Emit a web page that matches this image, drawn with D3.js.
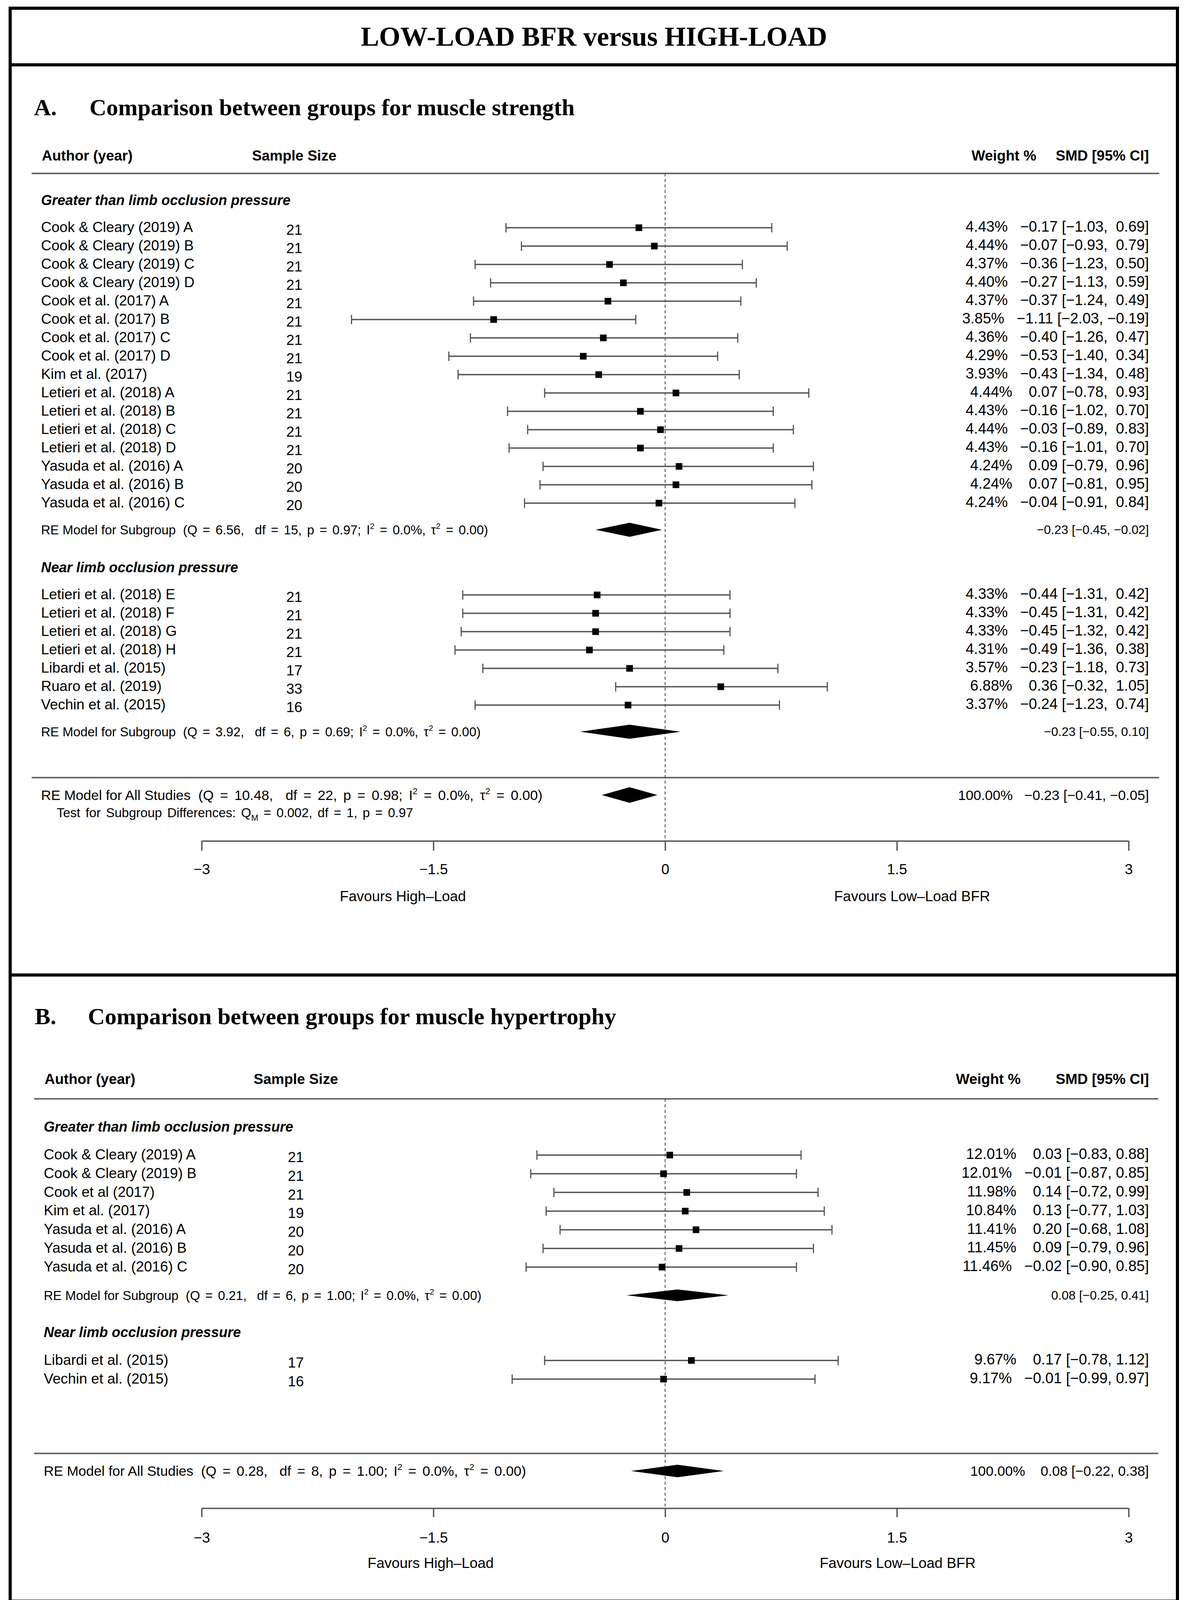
<!DOCTYPE html>
<html>
<head>
<meta charset="utf-8">
<script src="https://cdn.jsdelivr.net/npm/d3@7"></script>
<style>
  body { margin: 0; background: #fff; }
  svg text { white-space: pre; }
</style>
</head>
<body>
<svg id="chart"></svg>
<script>
// ---- data: [study, n, weight %, SMD, lower, upper] ----
const strengthGreater = [
  ["Cook & Cleary (2019) A", 21, 4.43, -0.17, -1.03, 0.69],
  ["Cook & Cleary (2019) B", 21, 4.44, -0.07, -0.93, 0.79],
  ["Cook & Cleary (2019) C", 21, 4.37, -0.36, -1.23, 0.50],
  ["Cook & Cleary (2019) D", 21, 4.40, -0.27, -1.13, 0.59],
  ["Cook et al. (2017) A", 21, 4.37, -0.37, -1.24, 0.49],
  ["Cook et al. (2017) B", 21, 3.85, -1.11, -2.03, -0.19],
  ["Cook et al. (2017) C", 21, 4.36, -0.40, -1.26, 0.47],
  ["Cook et al. (2017) D", 21, 4.29, -0.53, -1.40, 0.34],
  ["Kim et al. (2017)", 19, 3.93, -0.43, -1.34, 0.48],
  ["Letieri et al. (2018) A", 21, 4.44, 0.07, -0.78, 0.93],
  ["Letieri et al. (2018) B", 21, 4.43, -0.16, -1.02, 0.70],
  ["Letieri et al. (2018) C", 21, 4.44, -0.03, -0.89, 0.83],
  ["Letieri et al. (2018) D", 21, 4.43, -0.16, -1.01, 0.70],
  ["Yasuda et al. (2016) A", 20, 4.24, 0.09, -0.79, 0.96],
  ["Yasuda et al. (2016) B", 20, 4.24, 0.07, -0.81, 0.95],
  ["Yasuda et al. (2016) C", 20, 4.24, -0.04, -0.91, 0.84]
];
const strengthNear = [
  ["Letieri et al. (2018) E", 21, 4.33, -0.44, -1.31, 0.42],
  ["Letieri et al. (2018) F", 21, 4.33, -0.45, -1.31, 0.42],
  ["Letieri et al. (2018) G", 21, 4.33, -0.45, -1.32, 0.42],
  ["Letieri et al. (2018) H", 21, 4.31, -0.49, -1.36, 0.38],
  ["Libardi et al. (2015)", 17, 3.57, -0.23, -1.18, 0.73],
  ["Ruaro et al. (2019)", 33, 6.88, 0.36, -0.32, 1.05],
  ["Vechin et al. (2015)", 16, 3.37, -0.24, -1.23, 0.74]
];
const hypertrophyGreater = [
  ["Cook & Cleary (2019) A", 21, 12.01, 0.03, -0.83, 0.88],
  ["Cook & Cleary (2019) B", 21, 12.01, -0.01, -0.87, 0.85],
  ["Cook et al (2017)", 21, 11.98, 0.14, -0.72, 0.99],
  ["Kim et al. (2017)", 19, 10.84, 0.13, -0.77, 1.03],
  ["Yasuda et al. (2016) A", 20, 11.41, 0.20, -0.68, 1.08],
  ["Yasuda et al. (2016) B", 20, 11.45, 0.09, -0.79, 0.96],
  ["Yasuda et al. (2016) C", 20, 11.46, -0.02, -0.90, 0.85]
];
const hypertrophyNear = [
  ["Libardi et al. (2015)", 17, 9.67, 0.17, -0.78, 1.12],
  ["Vechin et al. (2015)", 16, 9.17, -0.01, -0.99, 0.97]
];

// RE models: [Q, df, p, I2 %, tau2, SMD, lower, upper]
const strengthSubgroups = [
  [6.56, 15, 0.97, 0.0, 0.00, -0.23, -0.45, -0.02],
  [3.92, 6, 0.69, 0.0, 0.00, -0.23, -0.55, 0.10]
];
const strengthOverall = [10.48, 22, 0.98, 0.0, 0.00, -0.23, -0.41, -0.05];
const strengthTest = [0.002, 1, 0.97]; // QM, df, p
const hypertrophySubgroups = [
  [0.21, 6, 1.00, 0.0, 0.00, 0.08, -0.25, 0.41]
];
const hypertrophyOverall = [0.28, 8, 1.00, 0.0, 0.00, 0.08, -0.22, 0.38];

const groupNames = ["Greater than limb occlusion pressure", "Near limb occlusion pressure"];
const axisTicks = [-3, -1.5, 0, 1.5, 3];

// ---- setup ----
const W = 3040, H = 4124;
const sans = "'Liberation Sans', Arial, sans-serif";
const serif = "'Liberation Serif', 'Times New Roman', serif";
const MINUS = "\u2212";

const svg = d3.select("#chart")
    .attr("width", W)
    .attr("height", H)
    .attr("viewBox", `0 0 ${W} ${H}`);

svg.append("rect").attr("width", W).attr("height", H).attr("fill", "#fff");

// outer frame and the two thick dividers
svg.append("rect")
    .attr("x", 26).attr("y", 21)
    .attr("width", 2987).attr("height", 4078)
    .attr("fill", "none").attr("stroke", "#000").attr("stroke-width", 8);
[166, 2496].forEach(yy => {
  svg.append("line")
      .attr("x1", 26).attr("x2", 3013).attr("y1", yy).attr("y2", yy)
      .attr("stroke", "#000").attr("stroke-width", 8);
});

svg.append("text")
    .attr("x", 1520).attr("y", 117)
    .attr("text-anchor", "middle")
    .attr("font-family", serif).attr("font-weight", "bold").attr("font-size", 70)
    .text("LOW-LOAD BFR versus HIGH-LOAD");

function label(parent, x, y, str, size, anchor = "start", weight = "normal", style = "normal") {
  return parent.append("text")
      .attr("x", x).attr("y", y).attr("dy", "0.35em")
      .attr("text-anchor", anchor)
      .attr("font-family", sans)
      .attr("font-size", size)
      .attr("font-weight", weight)
      .attr("font-style", style)
      .attr("xml:space", "preserve")
      .text(str);
}

// spread the spaces of the given tspans so the whole line reaches the target width
function fitSpaces(t, spans, target) {
  const natural = t.node().getComputedTextLength();
  const spaces = d3.sum(spans, s => (s.text().match(/ /g) || []).length);
  if (spaces > 0 && target > natural) {
    const ws = (target - natural) / spaces;
    spans.forEach(s => s.attr("word-spacing", ws));
  }
}

// "RE Model ... (Q = .., df = .., p = ..; I^2 = ..%, tau^2 = ..)"
function modelText(parent, x, y, prefix, m, size, target) {
  const t = label(parent, x, y, null, size);
  const up = size * 0.42, small = size * 0.62;
  t.append("tspan").text(`${prefix}  `);
  const spans = [
    t.append("tspan").text(`(Q = ${m[0].toFixed(2)},  df = ${m[1]}, p = ${m[2].toFixed(2)}; I`),
    t.append("tspan").attr("dy", -up).attr("font-size", small).text("2"),
    t.append("tspan").attr("dy", up).text(` = ${m[3].toFixed(1)}%, \u03c4`),
    t.append("tspan").attr("dy", -up).attr("font-size", small).text("2"),
    t.append("tspan").attr("dy", up).text(` = ${m[4].toFixed(2)})`)
  ];
  fitSpaces(t, spans, target);
}

function fmt(v, padded) {
  return (v < 0 ? MINUS : (padded ? " " : "")) + Math.abs(v).toFixed(2);
}

function drawPanel(p) {
  const g = svg.append("g");
  const x = d3.scaleLinear().domain([-3, 3]).range([516, 2888]);
  const y = r => p.y0 + r * p.step;

  const studies = p.groups.flatMap(gr => gr.studies);
  // pad non-negative numbers in a column that holds negatives
  const pad = [3, 4, 5].map(i => studies.some(d => d[i] < 0));
  const ann = (w, e, lo, hi, pads) =>
      (w == null ? "" : `${w.toFixed(2)}%   `) +
      `${fmt(e, pads[0])} [${fmt(lo, pads[1])}, ${fmt(hi, pads[2])}]`;

  // panel heading
  g.append("text").attr("x", p.letterX).attr("y", p.headY)
      .attr("font-family", serif).attr("font-weight", "bold").attr("font-size", 60)
      .text(p.letter);
  g.append("text").attr("x", p.titleX).attr("y", p.headY)
      .attr("font-family", serif).attr("font-weight", "bold").attr("font-size", 60)
      .text(p.title);

  // column headers
  const hy = y(p.headerRow);
  label(g, p.labelX + 2, hy, "Author (year)", 37, "start", "bold");
  label(g, p.nX, hy, "Sample Size", 37, "middle", "bold");
  label(g, p.weightX, hy, "Weight %", 37, "start", "bold");
  label(g, p.annX, hy, "SMD [95% CI]", 37, "end", "bold");

  [p.headerLine, p.sepRow].forEach(r => {
    g.append("line")
        .attr("x1", p.lineX1).attr("x2", p.lineX2)
        .attr("y1", y(r)).attr("y2", y(r))
        .attr("stroke", "#666").attr("stroke-width", 4);
  });

  // reference line at 0
  g.append("line")
      .attr("x1", x(0)).attr("x2", x(0))
      .attr("y1", y(p.headerLine)).attr("y2", y(p.axisRow))
      .attr("stroke", "#444").attr("stroke-width", 2)
      .attr("stroke-dasharray", "8,6");

  const diamond = (m, r, h) => {
    const cy = y(r);
    g.append("polygon")
        .attr("points", [[x(m[6]), cy], [x(m[5]), cy - h], [x(m[7]), cy], [x(m[5]), cy + h]].join(" "))
        .attr("fill", "#000");
  };

  p.groups.forEach((gr, gi) => {
    label(g, p.labelX, y(gr.row), groupNames[gi], 36, "start", "bold", "italic");

    gr.studies.forEach((d, i) => {
      const cy = y(gr.first + i);
      label(g, p.labelX, cy - 2, d[0], 37);
      label(g, p.nX, cy + 5, String(d[1]), 37, "middle");
      label(g, p.annX, cy - 3, ann(d[2], d[3], d[4], d[5], pad), 38, "end");

      g.append("line")
          .attr("x1", x(d[4])).attr("x2", x(d[5]))
          .attr("y1", cy).attr("y2", cy)
          .attr("stroke", "#555").attr("stroke-width", 3.5);
      [d[4], d[5]].forEach(v => {
        g.append("line")
            .attr("x1", x(v)).attr("x2", x(v))
            .attr("y1", cy - 12).attr("y2", cy + 12)
            .attr("stroke", "#555").attr("stroke-width", 3);
      });
      g.append("rect")
          .attr("x", x(d[3]) - 8.5).attr("y", cy - 8.5)
          .attr("width", 17).attr("height", 17)
          .attr("fill", "#000");
    });

    if (gr.model) {
      const m = gr.model;
      modelText(g, p.labelX, y(gr.modelRow), "RE Model for Subgroup", m, 33, gr.modelWidth);
      label(g, p.annX, y(gr.modelRow), ann(null, m[5], m[6], m[7], [false, false, false]), 32, "end");
      diamond(m, gr.modelRow, p.subH);
    }
  });

  // overall model
  const o = p.overall;
  modelText(g, p.labelX, y(p.overallRow), "RE Model for All Studies", o, 35.5, p.overallWidth);
  label(g, p.annX, y(p.overallRow), ann(100, o[5], o[6], o[7], pad), 35.5, "end");
  diamond(o, p.overallRow, p.allH);

  if (p.test) {
    const t = label(g, p.labelX + 40, y(p.testRow), null, 33);
    const spans = [t.append("tspan").text("Test for Subgroup Differences: Q")];
    t.append("tspan").attr("dy", 9).attr("font-size", 22).text("M");
    spans.push(t.append("tspan").attr("dy", -9)
        .text(` = ${p.test[0].toFixed(3)}, df = ${p.test[1]}, p = ${p.test[2].toFixed(2)}`));
    fitSpaces(t, spans, p.testWidth);
  }

  // x axis
  const ay = y(p.axisRow);
  const axis = g.append("g")
      .attr("transform", `translate(0,${ay})`)
      .call(d3.axisBottom(x).tickValues(axisTicks).tickSize(p.tickLen).tickSizeOuter(0)
          .tickFormat(d3.format("~g")));
  axis.selectAll("path, line").attr("stroke", "#555").attr("stroke-width", 3.5);
  axis.selectAll("text")
      .attr("y", p.tickLabelOff).attr("dy", "0.35em")
      .attr("font-family", sans).attr("font-size", 37).attr("fill", "#000");

  label(g, p.favours[0], ay + p.favoursOff, "Favours High\u2013Load", 37, "middle");
  label(g, p.favours[1], ay + p.favoursOff, "Favours Low\u2013Load BFR", 37, "middle");
}

drawPanel({
  letter: "A.", letterX: 87, titleX: 229, headY: 295,
  title: "Comparison between groups for muscle strength",
  y0: 583, step: 47,
  labelX: 105, nX: 753, weightX: 2486, annX: 2940,
  lineX1: 81, lineX2: 2966,
  headerRow: -3.94, headerLine: -2.96,
  groups: [
    { studies: strengthGreater, row: -1.5, first: 0,
      model: strengthSubgroups[0], modelRow: 16.45, modelWidth: 1144 },
    { studies: strengthNear, row: 18.5, first: 20,
      model: strengthSubgroups[1], modelRow: 27.45, modelWidth: 1125 }
  ],
  sepRow: 29.95, overallRow: 30.9, overall: strengthOverall, overallWidth: 1283,
  test: strengthTest, testRow: 31.85, testWidth: 912,
  axisRow: 33.4, tickLen: 25, tickLabelOff: 72, favoursOff: 141,
  favours: [1031, 2334],
  subH: 18, allH: 20
});

drawPanel({
  letter: "B.", letterX: 89, titleX: 225, headY: 2622,
  title: "Comparison between groups for muscle hypertrophy",
  y0: 2957, step: 47.8,
  labelX: 112, nX: 757, weightX: 2446, annX: 2940,
  lineX1: 87, lineX2: 2964,
  headerRow: -4.08, headerLine: -3.01,
  groups: [
    { studies: hypertrophyGreater, row: -1.51, first: 0,
      model: hypertrophySubgroups[0], modelRow: 7.51, modelWidth: 1120 },
    { studies: hypertrophyNear, row: 9.48, first: 11 }
  ],
  sepRow: 15.98, overallRow: 16.92, overall: hypertrophyOverall, overallWidth: 1234,
  axisRow: 18.91, tickLen: 23, tickLabelOff: 75, favoursOff: 140,
  favours: [1102, 2297],
  subH: 15, allH: 16
});
</script>
</body>
</html>
